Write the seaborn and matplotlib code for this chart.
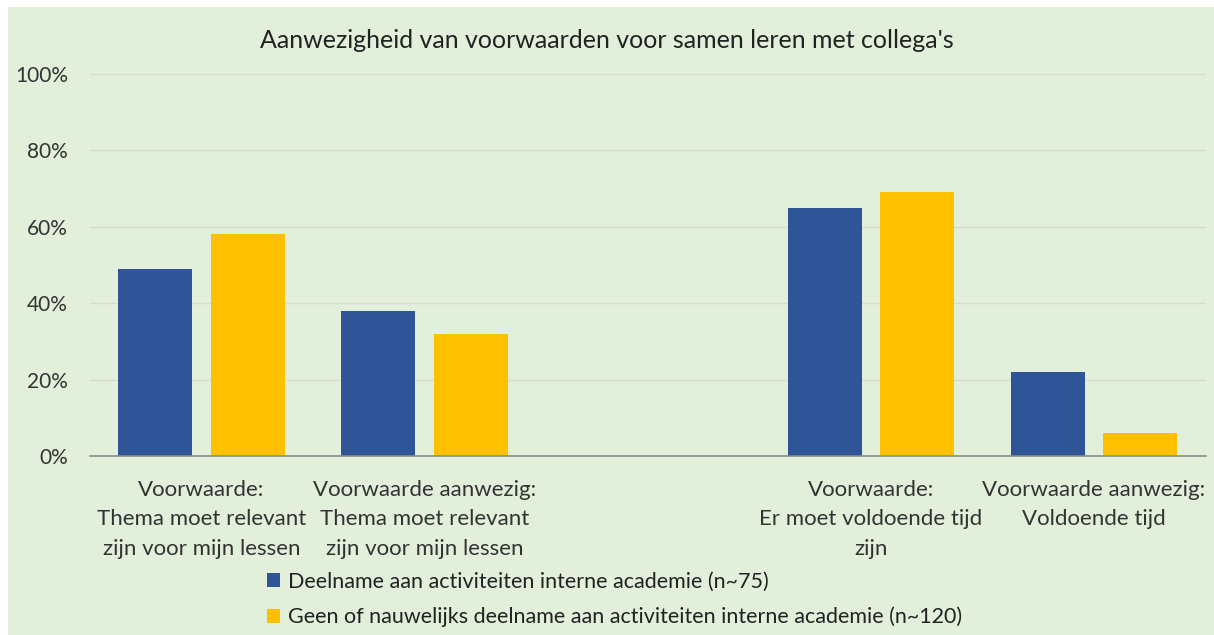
import matplotlib
matplotlib.use("Agg")
import matplotlib.pyplot as plt
import seaborn as sns
import pandas as pd
import numpy as np
from matplotlib.patches import Rectangle

categories = [
    "Voorwaarde:\nThema moet relevant\nzijn voor mijn lessen",
    "Voorwaarde aanwezig:\nThema moet relevant\nzijn voor mijn lessen",
    " ",
    "Voorwaarde:\nEr moet voldoende tijd\nzijn",
    "Voorwaarde aanwezig:\nVoldoende tijd",
]
series_names = [
    "Deelname aan activiteiten interne academie (n~75)",
    "Geen of nauwelijks deelname aan activiteiten interne academie (n~120)",
]
deelname = [49, 38, np.nan, 65, 22]
geen = [58, 32, np.nan, 69, 6]
yticks = [0, 20, 40, 60, 80, 100]
ytick_labels = ["0%", "20%", "40%", "60%", "80%", "100%"]
title = "Aanwezigheid van voorwaarden voor samen leren met collega's"
colors = ["#2F5597", "#FFC000"]

df = pd.DataFrame({
    "cat": categories * 2,
    "serie": [series_names[0]] * 5 + [series_names[1]] * 5,
    "val": deelname + geen,
})

sns.set_theme(style="white")
plt.rcParams["font.family"] = ["Lato", "DejaVu Sans"]
bg = "#E2EFDA"

fig = plt.figure(figsize=(12.14, 6.35), dpi=100, facecolor="white")
fig.patches.append(Rectangle((8 / 1214, 0), 1 - 8 / 1214, 1 - 7 / 635,
                             transform=fig.transFigure, facecolor=bg,
                             edgecolor="none", zorder=-10))
ax = fig.add_axes([90 / 1214, 1 - 456 / 635, (1205.5 - 90) / 1214, (456 - 74) / 635])
ax.patch.set_alpha(0)

sns.barplot(data=df, x="cat", y="val", hue="serie", order=categories,
            hue_order=series_names, palette=colors, width=0.83, gap=0.2,
            saturation=1, linewidth=0, ax=ax, legend=True)

ax.set_ylim(0, 100)
ax.set_xlim(-0.5, 4.5)
ax.set_yticks(yticks)
ax.set_yticklabels(ytick_labels, fontsize=15, color="#333333")
ax.tick_params(axis="y", length=0, pad=16)
ax.tick_params(axis="x", length=0, pad=17, labelsize=16, labelcolor="#333333")
for lab in ax.get_xticklabels():
    lab.set_linespacing(1.6)
ax.set_xlabel("")
ax.set_ylabel("")
ax.set_axisbelow(True)
for y in yticks[1:]:
    ax.axhline(y, color="#D4DDCF", lw=1, zorder=0)
for s in ["top", "right", "left"]:
    ax.spines[s].set_visible(False)
ax.spines["bottom"].set_color("#8C8C8C")
ax.spines["bottom"].set_linewidth(1.2)

fig.text(0.5, 1 - 40 / 635, title, ha="center", va="center", fontsize=18, color="#222222")

handles, labels = ax.get_legend_handles_labels()
ax.get_legend().remove()
leg = fig.legend(handles, labels, loc="upper left",
                 bbox_to_anchor=(258 / 1214, 1 - 563 / 635),
                 frameon=False, fontsize=15.5, handlelength=0.6, handleheight=0.6,
                 handletextpad=0.4, labelspacing=0.7, labelcolor="#222222",
                 borderaxespad=0)

fig.savefig("out.png", dpi=100, facecolor="white")
